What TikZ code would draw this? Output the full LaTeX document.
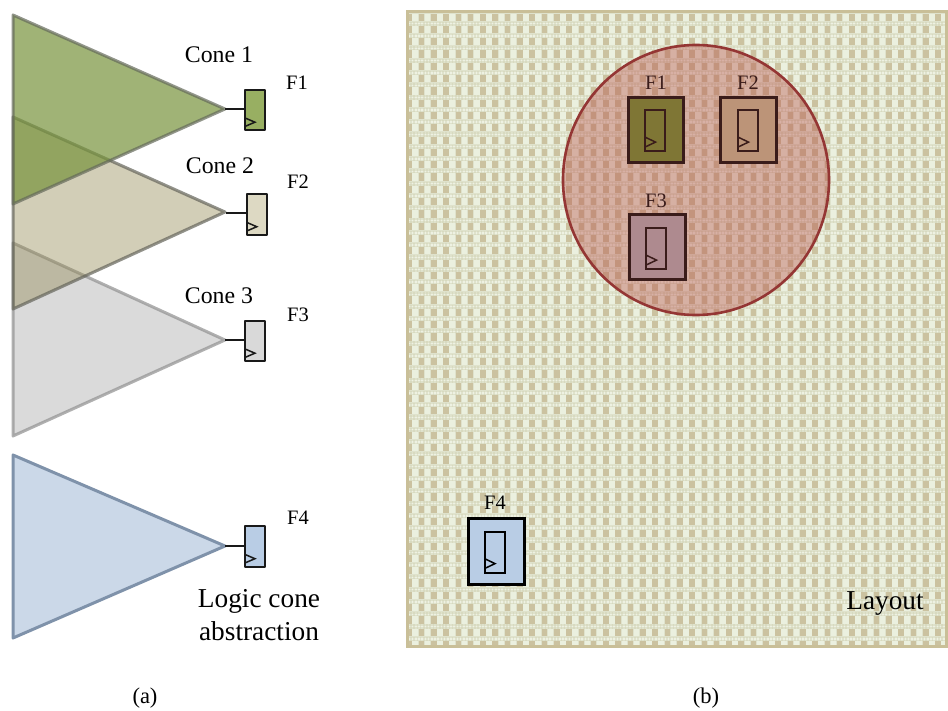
\documentclass[tikz,border=0pt]{standalone}
\usepackage{fontspec}
\setmainfont{Liberation Serif}
\definecolor{cellw}{HTML}{EBF0DF}
\definecolor{cellt}{HTML}{CBC2A0}
\definecolor{bandc}{HTML}{DFE2CC}
\definecolor{bandd}{HTML}{EEF1E2}
\definecolor{bande}{HTML}{D8DAC0}
\definecolor{bordc}{HTML}{C9BF98}
\definecolor{ringc}{HTML}{943634}
\definecolor{ringf}{HTML}{B8504A}
\definecolor{darktxt}{HTML}{3A1C1A}
\definecolor{cgreen}{RGB}{119,147,60}
\definecolor{cgreenE}{RGB}{100,105,90}
\definecolor{ctan}{RGB}{148,138,84}
\definecolor{ctanE}{RGB}{100,100,90}
\definecolor{cgray}{RGB}{166,166,166}
\definecolor{cgrayE}{RGB}{150,150,150}
\definecolor{cblue}{HTML}{CBD8E8}
\definecolor{cblueE}{HTML}{7F92AA}
\definecolor{fa}{HTML}{98AF62}
\definecolor{fb}{HTML}{DDD9C3}
\definecolor{fc}{HTML}{D9D9D9}
\definecolor{fd}{HTML}{B9CDE5}
\definecolor{ga}{HTML}{7F7635}
\definecolor{gb}{HTML}{BC9478}
\definecolor{gc}{HTML}{AE8A8F}
\tikzset{
 conegreen/.style={fill=cgreen,fill opacity=.7,draw=cgreenE,draw opacity=.7,line width=3pt,line join=round},
 conetan/.style={fill=ctan,fill opacity=.42,draw=ctanE,draw opacity=.7,line width=3pt,line join=round},
 conegray/.style={fill=cgray,fill opacity=.42,draw=cgrayE,draw opacity=.75,line width=3pt,line join=round},
 coneblue/.style={fill=cblue,draw=cblueE,line width=3pt,line join=round},
 ffsmall/.style={draw=black!90,line width=2.1pt,line join=round,minimum width=20.3pt,inner sep=0pt,anchor=north west},
 wire/.style={draw=black!90,line width=1.4pt},
 clk/.style={draw=black!90,line width=1.5pt},
 lab/.style={font=\fontsize{23.8}{26}\selectfont,inner sep=0pt},
 captext/.style={font=\fontsize{22.5}{26}\selectfont,inner sep=0pt},
 ffl/.style={font=\fontsize{20.5}{24}\selectfont,inner sep=0pt},
 big/.style={font=\fontsize{27.3}{33}\selectfont,inner sep=0pt,align=center},
 ffbig/.style={line width=3pt,line join=miter,minimum width=55.5pt,minimum height=65.5pt,inner sep=0pt,anchor=north west},
 ffin/.style={line width=2.1pt,minimum width=20pt,minimum height=41pt,inner sep=0pt,anchor=north west},
}
\begin{document}
\begin{tikzpicture}[x=1pt,y=-1pt]
\useasboundingbox (0,0) rectangle (948,711);
% cones
\coordinate (c3t) at (13,243); \coordinate (c3a) at (225,340); \coordinate (c3b) at (13,436);
\coordinate (c2t) at (13,117); \coordinate (c2a) at (225,212); \coordinate (c2b) at (13,309);
\coordinate (c1t) at (13,15);  \coordinate (c1a) at (225,109); \coordinate (c1b) at (13,204);
\coordinate (c4t) at (13,455); \coordinate (c4a) at (225,546); \coordinate (c4b) at (13,638);
\path[conegray] (c3t) -- (c3a) -- (c3b) -- cycle;
\path[conetan] (c2t) -- (c2a) -- (c2b) -- cycle;
\path[conegreen] (c1t) -- (c1a) -- (c1b) -- cycle;
\path[coneblue] (c4t) -- (c4a) -- (c4b) -- cycle;
% small flip-flops
\node[ffsmall,fill=fa,minimum height=40.5pt] (s1) at (243.6,88.6) {};
\node[ffsmall,fill=fb,minimum height=41pt] (s2) at (245.5,192.6) {};
\node[ffsmall,fill=fc,minimum height=40.5pt] (s3) at (243.6,319.6) {};
\node[ffsmall,fill=fd,minimum height=41pt] (s4) at (243.6,524.6) {};
\draw[wire] (c1a) -- (c1a -| s1.west);
\draw[wire] (c2a) ++(1,1) -- (s2.west |- 226,213);
\draw[wire] (c3a) -- (s3.west |- c3a);
\draw[wire] (c4a) -- (s4.west |- c4a);
\draw[clk] (s1.south west) ++(0.8,-13.5) -- ++(10.5,4.5) -- ++(-10.5,4.5);
\draw[clk] (s2.south west) ++(0.8,-13.5) -- ++(10.5,4.5) -- ++(-10.5,4.5);
\draw[clk] (s3.south west) ++(0.8,-13.5) -- ++(10.5,4.5) -- ++(-10.5,4.5);
\draw[clk] (s4.south west) ++(0.8,-13.5) -- ++(10.5,4.5) -- ++(-10.5,4.5);
% left labels
\node[lab] (t1) at (219,55) {Cone 1};
\node[lab] (t2) at (220,166) {Cone 2};
\node[lab] (t3) at (219,296) {Cone 3};
\node[ffl] (l1) at (297,83) {F1};
\node[ffl] (l2) at (298,182) {F2};
\node[ffl] (l3) at (298,315) {F3};
\node[ffl] (l4) at (298,518) {F4};
\node[big] (lc) at (259,615) {Logic cone\\abstraction};
\node[captext] (a) at (145,698) {(a)};
\node[captext] (b) at (706,698) {(b)};
% layout
\fill[bandc] (407,12) rectangle (946,646);
\begin{scope}
\clip (407,12) rectangle (946,646);
\foreach \r in {0,...,52}{
  \pgfmathsetmacro{\yy}{17.2+12.3*\r}
  \pgfmathsetmacro{\yb}{\yy+5.2}
  \pgfmathsetmacro{\yc}{\yy+6.6}
  \pgfmathsetmacro{\yd}{\yy+8.0}
  \draw[cellw,line width=7.2pt,dash pattern=on 5.6pt off 6.7pt,dash phase=-5.4pt] (407,\yy) -- (946,\yy);
  \draw[cellt,line width=7.2pt,dash pattern=on 5.6pt off 6.7pt,dash phase=-11.6pt] (407,\yy) -- (946,\yy);
  \draw[bande,line width=1.4pt,dash pattern=on 1.6pt off 1.6pt] (407,\yb) -- (946,\yb);
  \draw[bandd,line width=1.4pt,dash pattern=on 1.6pt off 1.6pt,dash phase=1.6pt] (407,\yc) -- (946,\yc);
  \draw[bande,line width=1.4pt,dash pattern=on 1.6pt off 1.6pt] (407,\yd) -- (946,\yd);
}
\end{scope}
\draw[bordc,line width=3pt] (407,12) rectangle (946,646);
% hot region
\path[fill=ringf,fill opacity=.4] (696,180) ellipse [x radius=133,y radius=135];
\draw[ringc,line width=2.6pt] (696,180) ellipse [x radius=133,y radius=135];
% flip-flops in layout
\node[ffbig,draw=darktxt,fill=ga] (b1) at (626.5,96) {};
\node[ffbig,draw=darktxt,fill=gb] (b2) at (719,96) {};
\node[ffbig,draw=darktxt,fill=gc] (b3) at (628,213) {};
\node[ffbig,draw=black,fill=fd] (b4) at (467,517) {};
\node[ffin,draw=darktxt] (i1) at (644,109) {};
\node[ffin,draw=darktxt] (i2) at (737,109) {};
\node[ffin,draw=darktxt] (i3) at (645,227) {};
\node[ffin,draw=black] (i4) at (483.5,530.5) {};
\draw[darktxt,line width=1.5pt] (i1.south west) ++(1,-15) -- ++(10.5,5) -- ++(-10.5,5);
\draw[darktxt,line width=1.5pt] (i2.south west) ++(1,-15) -- ++(10.5,5) -- ++(-10.5,5);
\draw[darktxt,line width=1.5pt] (i3.south west) ++(1,-15) -- ++(10.5,5) -- ++(-10.5,5);
\draw[black,line width=1.5pt] (i4.south west) ++(1,-15) -- ++(10.5,5) -- ++(-10.5,5);
\node[ffl,text=darktxt] (m1) at (656,83) {F1};
\node[ffl,text=darktxt] (m2) at (748,83) {F2};
\node[ffl,text=darktxt] (m3) at (656,201) {F3};
\node[ffl] (m4) at (495,503) {F4};
\node[big] (lay) at (885,604) {Layout};
\end{tikzpicture}
\end{document}
